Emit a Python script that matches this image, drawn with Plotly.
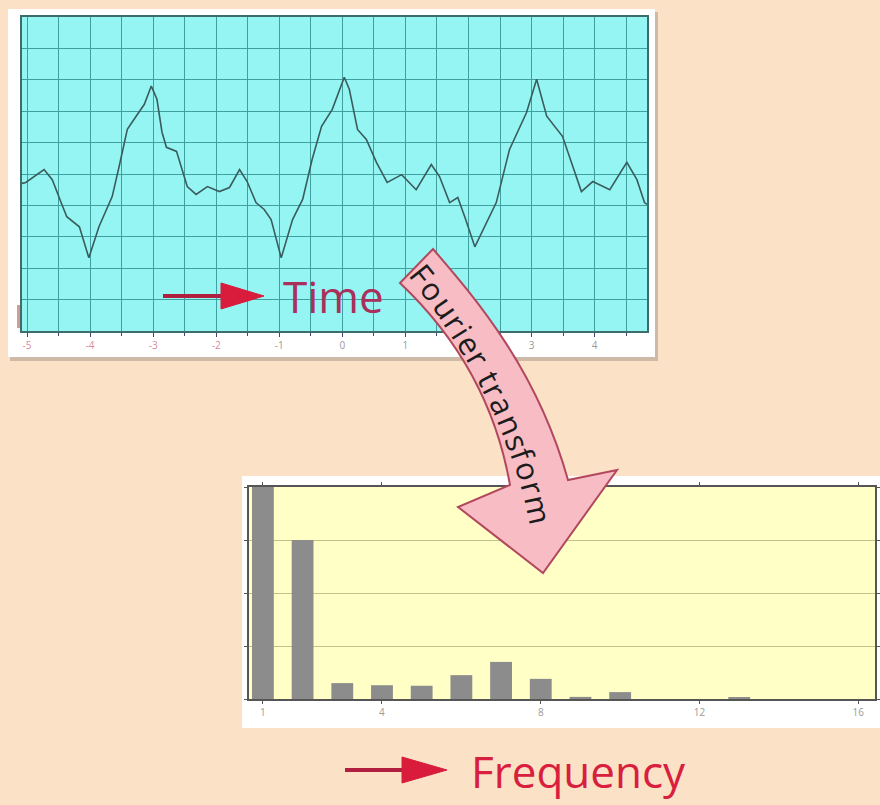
import numpy as np
import plotly.graph_objs as go

W, H = 880, 805

# time-domain signal
time_x = [-5.08, -5.02, -4.73, -4.60, -4.46, -4.37, -4.17, -4.02, -3.86, -3.65, -3.54, -3.41, -3.27,
          -3.14, -3.03, -2.94, -2.86, -2.79, -2.63, -2.46, -2.32, -2.14, -1.95, -1.79, -1.63, -1.51,
          -1.37, -1.24, -1.13, -0.97, -0.79, -0.63, -0.48, -0.33, -0.16, 0.03, 0.11, 0.24, 0.38,
          0.54, 0.71, 0.94, 1.17, 1.41, 1.54, 1.70, 1.83, 1.94, 2.10, 2.29, 2.44, 2.65, 2.78,
          2.92, 3.08, 3.24, 3.49, 3.79, 3.97, 4.24, 4.51, 4.67, 4.79, 4.83]
time_y = [-0.30, -0.27, 0.14, -0.18, -0.91, -1.36, -1.68, -2.67, -1.68, -0.72, 0.24, 1.42, 1.84,
          2.22, 2.80, 2.38, 1.33, 0.85, 0.72, -0.40, -0.65, -0.40, -0.56, -0.43, 0.14, -0.24,
          -0.91, -1.13, -1.45, -2.67, -1.45, -0.81, 0.46, 1.52, 2.06, 3.08, 2.70, 1.42, 1.10,
          0.37, -0.27, -0.02, -0.50, 0.30, -0.08, -0.91, -0.75, -1.36, -2.32, -1.55, -0.91, 0.78,
          1.33, 1.96, 3.02, 1.84, 1.20, -0.56, -0.24, -0.50, 0.37, -0.18, -0.91, -0.97]
time_ticks = [-5, -4, -3, -2, -1, 0, 1, 2, 3, 4]

# spectrum
freq_x = list(range(1, 17))
freq_y = [4.0, 3.0, 0.30, 0.26, 0.25, 0.45, 0.70, 0.38, 0.04, 0.13, 0.0, 0.0, 0.02, 0.0, 0.0, 0.0]
freq_ticks = [1, 4, 8, 12, 16]

label = "Fourier transform"
char_w = {"F": .53, "o": .60, "u": .61, "r": .41, "i": .26, "e": .56, " ": .26,
          "t": .35, "a": .56, "n": .61, "s": .48, "f": .33, "m": .93}

BG = "#FBE2C6"
CYAN = "#94F5F3"
GRIDC = "#40A0A0"
YELLOW = "#FFFFC6"
RED = "#D91C3C"


def fx(x):
    return x / W


def fy(y):
    return 1 - y / H


def P(x, y):
    return f"{fx(x):.5f},{fy(y):.5f}"


fig = go.Figure()
fig.add_trace(go.Scatter(x=time_x, y=time_y, mode="lines",
                         line=dict(color="#3B5C5C", width=1.6), xaxis="x", yaxis="y"))
fig.add_trace(go.Bar(x=freq_x, y=freq_y, width=0.55, marker=dict(color="#8C8C8C", line_width=0),
                     xaxis="x2", yaxis="y2"))

tick_text = []
for t in time_ticks:
    c = "#D68C9C" if t < -1 else "#9A9A9A"
    tick_text.append(f"<span style='color:{c}'>{t}</span>")

fig.update_layout(
    width=W, height=H, margin=dict(l=0, r=0, t=0, b=0),
    paper_bgcolor=BG, plot_bgcolor="rgba(0,0,0,0)",
    showlegend=False, font=dict(family="Open Sans", color="#333"),
    xaxis=dict(domain=[fx(22), fx(647)], range=[-5.08, 4.83], anchor="y",
               tickvals=time_ticks, ticktext=tick_text, tickfont=dict(size=10),
               showgrid=True, gridcolor=GRIDC, gridwidth=1,
               ticks="outside", ticklen=4, tickcolor="#446", showline=True, linecolor="#3C6C6C",
               linewidth=2, mirror=True, zeroline=False,
               minor=dict(dtick=0.5, tick0=0, showgrid=True, gridcolor=GRIDC, ticks="outside",
                          ticklen=3, tickcolor="#446")),
    yaxis=dict(domain=[fy(331), fy(17)], range=[-5, 5], dtick=1, anchor="x",
               showgrid=True, gridcolor=GRIDC, showticklabels=False, zeroline=False,
               showline=True, linecolor="#3C6C6C", linewidth=2, mirror=True),
    xaxis2=dict(domain=[fx(249), fx(875)], range=[0.65, 16.42], anchor="y2",
                tickvals=freq_ticks, tickfont=dict(size=10, color="#9A9A9A"),
                ticks="outside", ticklen=3, tickcolor="#555", showgrid=False,
                showline=True, linecolor="#555", linewidth=1.5, mirror="ticks", zeroline=False),
    yaxis2=dict(domain=[fy(699), fy(487)], range=[0, 4], dtick=1, anchor="x2",
                showgrid=True, gridcolor="#C2C28E", showticklabels=False, zeroline=False,
                ticks="outside", ticklen=3, tickcolor="#555",
                showline=True, linecolor="#555", linewidth=1.5, mirror="ticks"),
)

shapes = [
    # panels
    dict(type="rect", xref="paper", yref="paper", x0=fx(10), x1=fx(658), y0=fy(361), y1=fy(12),
         fillcolor="#CDBBA8", line_width=0, layer="below"),
    dict(type="rect", xref="paper", yref="paper", x0=fx(8), x1=fx(655), y0=fy(357), y1=fy(9),
         fillcolor="white", line_width=0, layer="below"),
    dict(type="rect", xref="x domain", yref="y domain", x0=0, x1=1, y0=0, y1=1,
         fillcolor=CYAN, line_width=0, layer="below"),
    dict(type="rect", xref="paper", yref="paper", x0=fx(17), x1=fx(22), y0=fy(328), y1=fy(305),
         fillcolor="#D49A98", line_width=0, layer="below"),
    dict(type="rect", xref="paper", yref="paper", x0=fx(242), x1=fx(880), y0=fy(728), y1=fy(476),
         fillcolor="white", line_width=0, layer="below"),
    dict(type="rect", xref="x2 domain", yref="y2 domain", x0=0, x1=1, y0=0, y1=1,
         fillcolor=YELLOW, line_width=0, layer="below"),
    # curved Fourier arrow
    dict(type="path", xref="paper", yref="paper", layer="above",
         path=(f"M {P(400, 283)} L {P(433, 249)} C {P(477, 300)} {P(537, 370)} {P(568, 480)} "
               f"L {P(617, 470)} L {P(543, 573)} L {P(458, 507)} L {P(510, 485)} "
               f"C {P(495, 400)} {P(455, 335)} {P(400, 283)} Z"),
         fillcolor="#F7BCC4", line=dict(color="#B2485E", width=2)),
    # red arrows
    dict(type="line", xref="paper", yref="paper", x0=fx(163), x1=fx(224), y0=fy(296), y1=fy(296),
         line=dict(color="#B0203E", width=4), layer="above"),
    dict(type="path", xref="paper", yref="paper", layer="above",
         path=f"M {P(221, 283)} L {P(264, 296)} L {P(221, 309)} Z",
         fillcolor=RED, line=dict(color=RED, width=1)),
    dict(type="line", xref="paper", yref="paper", x0=fx(345), x1=fx(405), y0=fy(770), y1=fy(770),
         line=dict(color="#B0203E", width=4), layer="above"),
    dict(type="path", xref="paper", yref="paper", layer="above",
         path=f"M {P(402, 757)} L {P(447, 770)} L {P(402, 783)} Z",
         fillcolor=RED, line=dict(color=RED, width=1)),
]
fig.update_layout(shapes=shapes)

annotations = [
    dict(text="Time", x=fx(281), y=fy(296), xref="paper", yref="paper", xanchor="left",
         yanchor="middle", showarrow=False, font=dict(size=44, color="#A8305A")),
    dict(text="Frequency", x=fx(469), y=fy(771), xref="paper", yref="paper", xanchor="left",
         yanchor="middle", showarrow=False, font=dict(size=44, color="#D8203E")),
]

# text along the curved arrow
c0, c1, c2, c3 = [np.array(p, float) for p in [(416, 267), (456, 315), (522, 414), (542, 526)]]
tt = np.linspace(0, 1, 600)
pts = ((1 - tt) ** 3)[:, None] * c0 + (3 * (1 - tt) ** 2 * tt)[:, None] * c1 \
    + (3 * (1 - tt) * tt ** 2)[:, None] * c2 + (tt ** 3)[:, None] * c3
seg = np.hypot(*np.diff(pts, axis=0).T)
arc = np.concatenate([[0], np.cumsum(seg)])
widths = [char_w[ch] for ch in label]
scale = arc[-1] / sum(widths)
pos = 0.0
for ch, w in zip(label, widths):
    s = (pos + w / 2) * scale
    pos += w
    if ch == " ":
        continue
    t = np.interp(s, arc, tt)
    x, y = np.interp(s, arc, pts[:, 0]), np.interp(s, arc, pts[:, 1])
    d = 3 * (1 - t) ** 2 * (c1 - c0) + 6 * (1 - t) * t * (c2 - c1) + 3 * t ** 2 * (c3 - c2)
    ang = float(np.degrees(np.arctan2(d[1], d[0])))
    annotations.append(dict(text=ch, x=fx(x), y=fy(y), xref="paper", yref="paper",
                            xanchor="center", yanchor="middle", textangle=ang, showarrow=False,
                            font=dict(size=31, color="#1C1C1C")))
fig.update_layout(annotations=annotations)

# drop the default page margin so the figure fills the window
fig.write_html("out.html", config={"displayModeBar": False},
               post_script="document.body.style.margin='0';"
                           "document.body.style.background='" + BG + "';")
